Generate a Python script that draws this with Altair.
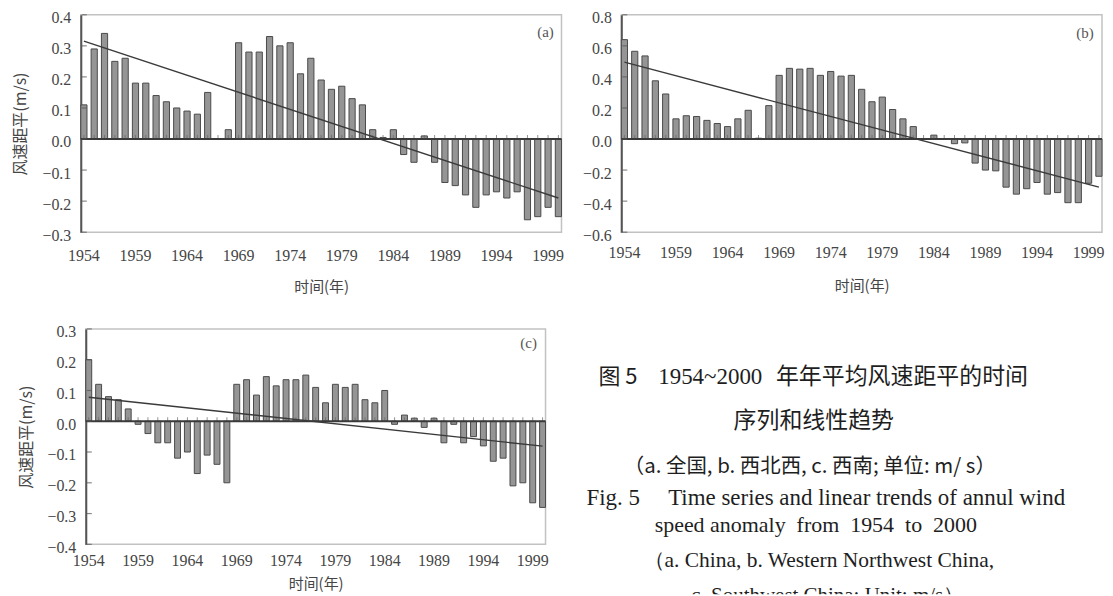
import altair as alt
import pandas as pd

# ---------------- data ----------------
years = list(range(1954, 2001))

anom_a = [0.11, 0.29, 0.34, 0.25, 0.26, 0.18, 0.18, 0.14, 0.12, 0.10,
          0.09, 0.08, 0.15, 0.0, 0.03, 0.31, 0.28, 0.28, 0.33, 0.30,
          0.31, 0.21, 0.26, 0.19, 0.16, 0.17, 0.13, 0.11, 0.03, 0.005,
          0.03, -0.05, -0.075, 0.01, -0.075, -0.14, -0.15, -0.18, -0.22, -0.18,
          -0.17, -0.19, -0.17, -0.26, -0.25, -0.22, -0.25]

anom_b = [0.64, 0.565, 0.535, 0.375, 0.29, 0.13, 0.15, 0.145, 0.12, 0.10,
          0.08, 0.13, 0.185, 0.005, 0.215, 0.41, 0.455, 0.45, 0.455, 0.41,
          0.435, 0.405, 0.41, 0.32, 0.24, 0.27, 0.19, 0.13, 0.08, 0.0,
          0.025, 0.0, -0.03, -0.025, -0.155, -0.20, -0.205, -0.31, -0.355, -0.32,
          -0.28, -0.355, -0.345, -0.41, -0.41, -0.285, -0.24]

anom_c = [0.20, 0.12, 0.08, 0.07, 0.04, -0.01, -0.04, -0.07, -0.07, -0.12,
          -0.10, -0.17, -0.11, -0.14, -0.20, 0.12, 0.135, 0.085, 0.145, 0.115,
          0.135, 0.135, 0.15, 0.11, 0.06, 0.12, 0.11, 0.12, 0.07, 0.06,
          0.10, -0.01, 0.02, 0.01, -0.02, 0.01, -0.07, -0.01, -0.07, -0.05,
          -0.08, -0.13, -0.12, -0.21, -0.20, -0.265, -0.28]

trend_years = [1954, 2000]
trend_a = [0.315, -0.19]
trend_b = [0.495, -0.31]
trend_c = [0.078, -0.081]

ticks_a = [0.4, 0.3, 0.2, 0.1, 0.0, -0.1, -0.2, -0.3]
ticks_b = [0.8, 0.6, 0.4, 0.2, 0.0, -0.2, -0.4, -0.6]
ticks_c = [0.3, 0.2, 0.1, 0.0, -0.1, -0.2, -0.3, -0.4]
year_labels = [1954, 1959, 1964, 1969, 1974, 1979, 1984, 1989, 1994, 1999]
tags = ["(a)", "(b)", "(c)"]
baseline_value = [0.0]

y_title = "风速距平(m/s)"
x_title = "时间(年)"

cap_l1 = ["图 5", "1954~2000", "年年平均风速距平的时间"]
cap_l2 = "序列和线性趋势"
cap_l3 = "（a. 全国, b. 西北西, c. 西南; 单位: m/ s）"
cap_l4 = "Fig. 5\u2003 Time series and linear trends of annul wind"
cap_l5 = "speed anomaly\u00a0 from\u00a0 1954\u00a0 to\u00a0 2000"
cap_l6 = "（a. China, b. Western Northwest China,"
cap_l7 = "c. Southwest China; Unit: m/s）"

SERIF = "Liberation Serif"
CJK = "Noto Sans CJK SC"
INK = "#454545"


def panel(vals, trend, ticks, tag, width, height, show_ytitle, ytitle_pad,
          xlab_pad, xtitle_pad, x_ext, tag_x, tag_y):
    lo, hi = min(ticks), max(ticks)
    yscale = alt.Scale(domain=[lo, hi], nice=False, zero=False)
    xscale = alt.Scale(paddingInner=0.4, paddingOuter=0)
    yaxis_kw = dict(values=ticks, format=".1f", ticks=False, tickSize=0, grid=False,
                    labelPadding=10, labelFlush=False, labelOffset=3, labelFont=SERIF,
                    labelFontSize=16, labelColor=INK, domainColor="#555555", domainWidth=2,
                    minExtent=40, maxExtent=40)
    if show_ytitle:
        yaxis_kw.update(title=y_title, titleFont=CJK, titleFontSize=16,
                        titleFontWeight="normal", titleColor=INK, titlePadding=ytitle_pad)
    else:
        yaxis_kw.update(title=None)
    xaxis_kw = dict(values=year_labels, labelAngle=0, ticks=False, tickSize=0, grid=False,
                    domain=False, labelPadding=xlab_pad, labelFont=SERIF, labelFontSize=16,
                    labelColor=INK, labelFlush=False, title=x_title, titleFont=CJK,
                    titleFontSize=15, titleFontWeight="normal", titleColor=INK,
                    titlePadding=xtitle_pad, minExtent=x_ext, maxExtent=x_ext)

    df = pd.DataFrame({"year": years, "v": vals})
    X = alt.X("year:O", scale=xscale, axis=alt.Axis(**xaxis_kw))
    Y = alt.Y("v:Q", scale=yscale, axis=alt.Axis(**yaxis_kw))

    bars = alt.Chart(df).mark_bar(
        fill="#959595", stroke="#4a4a4a", strokeWidth=1
    ).encode(x=X, y=Y, y2=alt.datum(0))

    zero_ticks = alt.Chart(df).mark_tick(
        orient="vertical", size=4, thickness=1, color="#666666", yOffset=-2
    ).encode(x=X, y=alt.YDatum(0, scale=yscale, axis=alt.Axis(**yaxis_kw)))

    zero = alt.Chart(pd.DataFrame({"v": baseline_value})).mark_rule(
        color="#3a3a3a", strokeWidth=2
    ).encode(y=Y)

    tr = alt.Chart(pd.DataFrame({"year": trend_years, "v": trend})).mark_line(
        color="#3a3a3a", strokeWidth=1.4
    ).encode(x=X, y=Y)

    ytk = alt.Chart(pd.DataFrame({"v": ticks})).mark_tick(
        orient="horizontal", size=5, thickness=1.2, color="#555555"
    ).encode(y=Y, x=alt.value(3.5))

    tg = alt.Chart(pd.DataFrame({"tag": [tag]})).mark_text(
        font=SERIF, fontSize=15, color="#555555", align="center", baseline="middle"
    ).encode(x=alt.value(tag_x), y=alt.value(tag_y), text="tag:N")

    return alt.layer(bars, zero_ticks, zero, tr, ytk, tg).properties(width=width, height=height)


pa = panel(anom_a, trend_a, ticks_a, tags[0], 482, 218, True, 12, 15, 15.5, 32, 466, 17)
pb = panel(anom_b, trend_b, ticks_b, tags[1], 482, 218, False, 0, 12, 14.5, 32, 465, 18)
pc = panel(anom_c, trend_c, ticks_c, tags[2], 461, 216, True, 11, 8, 4.5, 28, 444, 14)


def cap_text(txt, font, size, x, y, align="center", baseline="middle"):
    return alt.Chart(pd.DataFrame({"t": [txt]})).mark_text(
        font=font, fontSize=size, color="#1e1e1e", align=align, baseline=baseline, clip=True
    ).encode(x=alt.value(x), y=alt.value(y), text="t:N")


caption = alt.layer(
    cap_text(cap_l1[0], CJK, 22, 49, 48, align="left"),
    cap_text(cap_l1[1], SERIF, 23, 109, 48, align="left"),
    cap_text(cap_l1[2], CJK, 23, 227, 48, align="left"),
    cap_text(cap_l2, CJK, 23, 265, 92),
    cap_text(cap_l3, CJK, 20.5, 261, 138),
    cap_text(cap_l4, SERIF, 23, 277, 177, baseline="alphabetic"),
    cap_text(cap_l5, SERIF, 22, 267, 204, baseline="alphabetic"),
    cap_text(cap_l6, SERIF, 21.5, 270, 239, baseline="alphabetic"),
    cap_text(cap_l7, SERIF, 21, 279, 274, baseline="alphabetic"),
).properties(width=553, height=266, view=alt.ViewBackground(strokeOpacity=0))

spacer = alt.Chart(pd.DataFrame({"t": [""]})).mark_text().encode(
    text="t:N", x=alt.value(0), y=alt.value(0)
).properties(width=1, height=10, view=alt.ViewBackground(strokeOpacity=0))

row1 = alt.hconcat(pa, pb, spacing=60, bounds="flush")
row2 = alt.hconcat(spacer, pc, caption, spacing=4, bounds="flush")

chart = alt.vconcat(row1, row2, spacing=27).properties(
    padding={"left": 4, "top": 0, "right": 0, "bottom": 0}
).configure_view(stroke="#c2c2c2", strokeWidth=1.5)

chart.save("out.html", embed_options={"renderer": "svg", "actions": False})
